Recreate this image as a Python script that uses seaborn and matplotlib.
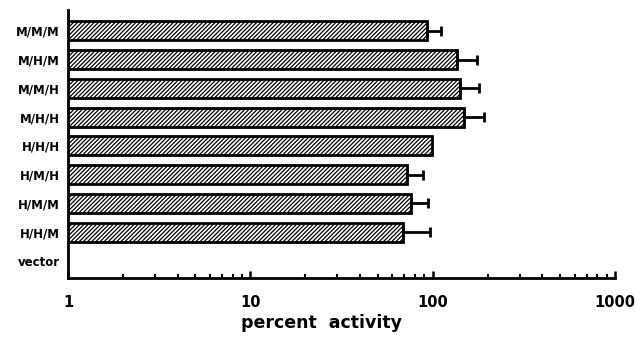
import matplotlib
matplotlib.use("Agg")
import matplotlib.pyplot as plt
import seaborn as sns
import numpy as np
import pandas as pd
from matplotlib.ticker import LogLocator, NullFormatter, FixedLocator, FixedFormatter

categories = ["M/M/M", "M/H/M", "M/M/H", "M/H/H", "H/H/H", "H/M/H", "H/M/M", "H/H/M", "vector"]
activity = [93, 136, 141, 149, 99, 72, 76, 69, np.nan]
err_upper = [18, 39, 39, 42, 0, 17, 18, 28, 0]
x_ticks = [1, 10, 100, 1000]
x_tick_labels = ["1", "10", "100", "1000"]

sns.set_theme(style="ticks")
plt.rcParams['font.family'] = ['DejaVu Sans']
plt.rcParams['hatch.linewidth'] = 0.9
plt.rcParams['text.color'] = 'black'
plt.rcParams['xtick.color'] = 'black'
plt.rcParams['ytick.color'] = 'black'
plt.rcParams['axes.labelcolor'] = 'black'

df = pd.DataFrame({"construct": categories, "activity": activity})

fig = plt.figure(figsize=(6.36, 3.37), dpi=100)
ax = fig.add_axes([0.107, 0.175, 0.860, 0.795])

sns.barplot(data=df, y="construct", x="activity", orient="h", order=categories,
            color="white", edgecolor="black", linewidth=2.0, width=0.66,
            errorbar=None, ax=ax, log_scale=(True, False))

for p in ax.patches:
    p.set_hatch("////////")
    p.set_facecolor("white")
    p.set_edgecolor("black")

ypos = np.arange(len(categories))
vals = np.array(activity, dtype=float)
errs = np.array(err_upper, dtype=float)
mask = (errs > 0) & ~np.isnan(vals)
ax.errorbar(vals[mask], ypos[mask], xerr=[np.zeros(mask.sum()), errs[mask]],
            fmt="none", ecolor="black", elinewidth=2.0, capsize=3.5, capthick=2.0)

ax.set_xscale("log")
ax.set_xlim(1, 1000)
ax.set_ylim(8.59, -0.72)

ax.xaxis.set_major_locator(FixedLocator(x_ticks))
ax.xaxis.set_major_formatter(FixedFormatter(x_tick_labels))
ax.xaxis.set_minor_locator(LogLocator(base=10, subs=np.arange(2, 10)))
ax.xaxis.set_minor_formatter(NullFormatter())
ax.tick_params(axis="x", which="major", direction="in", length=5, width=1.8, pad=12,
               labelsize=10.5, colors="black")
ax.tick_params(axis="x", which="minor", direction="in", length=3, width=1.5, colors="black")
ax.tick_params(axis="y", which="major", length=0, pad=6, labelsize=8.5, colors="black")
for lab in ax.get_xticklabels() + ax.get_yticklabels():
    lab.set_fontweight("bold")

ax.set_ylabel("")
ax.set_xlabel("percent  activity", fontsize=12.5, fontweight="bold", color="black")
ax.xaxis.set_label_coords(0.463, -0.135)

sns.despine(ax=ax)
for s in ["left", "bottom"]:
    ax.spines[s].set_linewidth(2)
    ax.spines[s].set_color("black")

fig.savefig("out.png", dpi=100)
